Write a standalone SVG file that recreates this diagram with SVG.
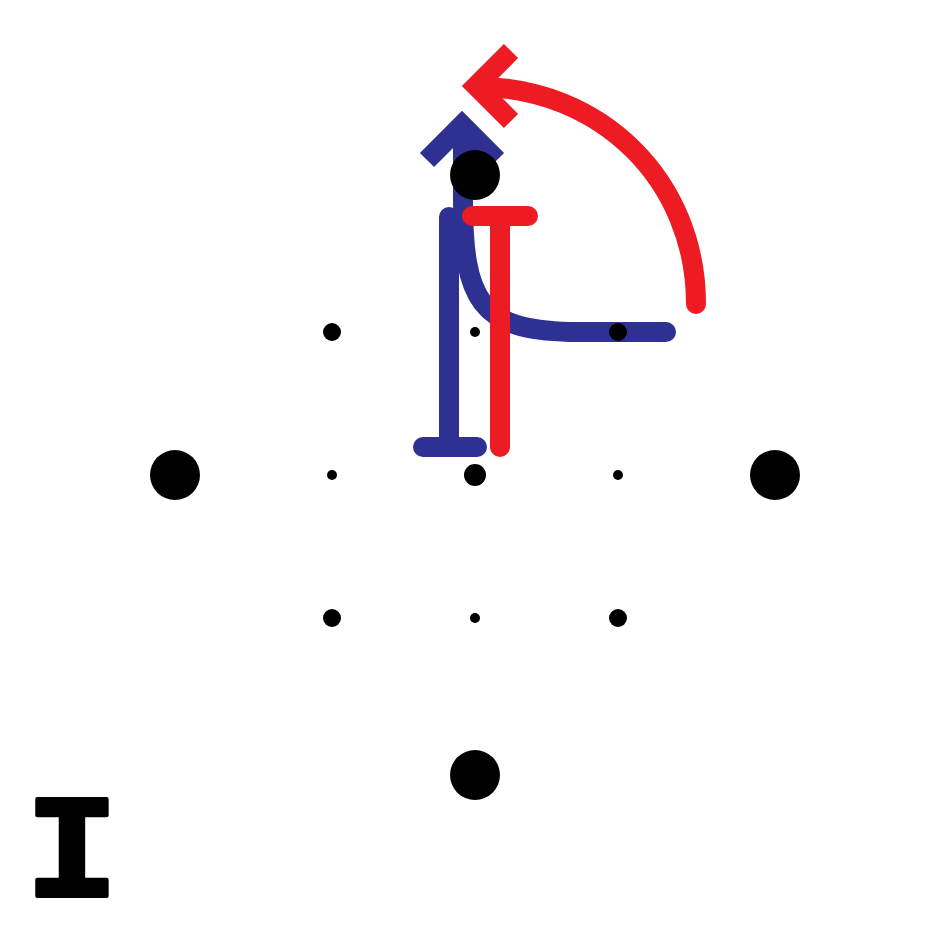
<svg xmlns="http://www.w3.org/2000/svg" width="950" height="950" viewBox="0 0 950 950">
<style>
.b{fill:none;stroke:#2E3192;stroke-width:20}
.r{fill:none;stroke:#ED1C24;stroke-width:20}
.rc{stroke-linecap:round}
.h{stroke-linecap:butt;stroke-linejoin:miter}
.d{fill:#000}
</style>
<rect width="950" height="950" fill="#fff"/>
<g id="connectors">
<path class="b rc" d="M449,217 V447 M423,447 H477"/>
<path class="b rc" d="M463,128 V200 C463,300 480,330 570,332 H666"/>
<path class="b h" d="M427,160 L462,125 L497,160"/>
<path class="r rc" d="M500,216 V447 M472,216 H528"/>
<path class="r rc" d="M696,304 C696,180 600,87 478,87"/>
<path class="r h" d="M511,51 L476,86 L511,121"/>
</g>
<g id="n-top"><circle class="d" cx="475" cy="175" r="25"/></g>
<g id="n-left"><circle class="d" cx="175" cy="475" r="25"/></g>
<g id="n-right"><circle class="d" cx="775" cy="475" r="25"/></g>
<g id="n-bottom"><circle class="d" cx="475" cy="775" r="25"/></g>
<g id="n-center"><circle class="d" cx="475" cy="475" r="11"/></g>
<g id="n-tl"><circle class="d" cx="332" cy="332" r="9"/></g>
<g id="n-tr"><circle class="d" cx="618" cy="332" r="9"/></g>
<g id="n-bl"><circle class="d" cx="332" cy="618" r="9"/></g>
<g id="n-br"><circle class="d" cx="618" cy="618" r="9"/></g>
<g id="n-t"><circle class="d" cx="475" cy="332" r="5"/></g>
<g id="n-l"><circle class="d" cx="332" cy="475" r="5"/></g>
<g id="n-r"><circle class="d" cx="618" cy="475" r="5"/></g>
<g id="n-b"><circle class="d" cx="475" cy="618" r="5"/></g>
<g id="label"><text transform="translate(72,896) scale(1.06,1)" text-anchor="middle" font-family="Liberation Mono, monospace" font-weight="bold" font-size="146" fill="#000" stroke="#000" stroke-width="4" stroke-linejoin="round">I</text></g>
</svg>
